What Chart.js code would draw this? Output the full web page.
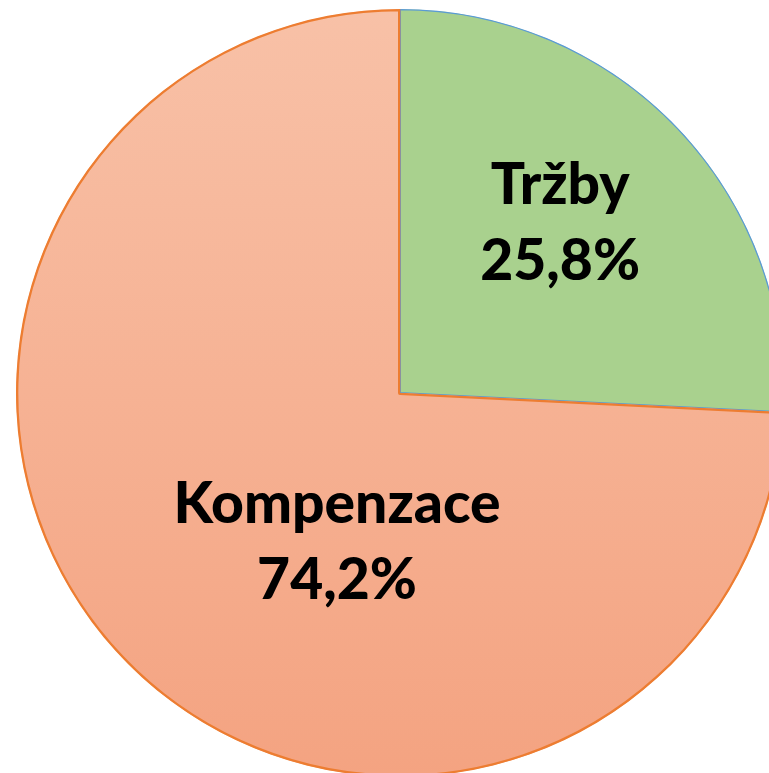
<!DOCTYPE html>
<html lang="cs">
<head>
<meta charset="UTF-8">
<title>Tržby a kompenzace</title>
<script src="https://cdn.jsdelivr.net/npm/chart.js"></script>
<style>
  html, body {
    margin: 0;
    padding: 0;
    background: #fff;
    width: 769px;
    height: 773px;
    overflow: hidden;
  }
  #wrap {
    position: absolute;
    left: 16px;
    top: 9px;
    width: 768px;
    height: 768px;
  }
</style>
</head>
<body>
<div id="wrap"><canvas id="pie"></canvas></div>

<script>
const categories = ['Tržby', 'Kompenzace'];
const shares = [25.8, 74.2];
const shareLabels = ['25,8%', '74,2%'];

// label anchor, as a fraction of the radius from the centre
const labelSpots = [[0.417, -0.44], [-0.164, 0.39]];

function sliceFill(context) {
  if (context.dataIndex === 0) return '#a9d18e';
  const area = context.chart.chartArea;
  if (!area) return '#f6b093';
  const g = context.chart.ctx.createLinearGradient(0, area.top, 0, area.bottom);
  g.addColorStop(0, '#f8c1a7');
  g.addColorStop(1, '#f4a381');
  return g;
}

const sliceLabels = {
  id: 'sliceLabels',
  afterDatasetsDraw(chart) {
    const c = chart.ctx;
    const arcs = chart.getDatasetMeta(0).data;
    c.save();
    c.fillStyle = '#000';
    c.textAlign = 'center';
    c.textBaseline = 'middle';
    c.font = '900 57px Lato';
    arcs.forEach((arc, i) => {
      const x = arc.x + labelSpots[i][0] * arc.outerRadius;
      const y = arc.y + labelSpots[i][1] * arc.outerRadius;
      c.fillText(categories[i], x, y - 38);
      c.fillText(shareLabels[i], x, y + 38);
    });
    c.restore();
  }
};

new Chart(document.getElementById('pie'), {
  type: 'pie',
  data: {
    labels: categories,
    datasets: [{
      data: shares,
      backgroundColor: sliceFill,
      borderColor: ['#5b9bd5', '#ed7d31'],
      borderWidth: [1, 2],
      borderAlign: 'inner'
    }]
  },
  options: {
    responsive: true,
    maintainAspectRatio: false,
    animation: false,
    layout: { padding: 0 },
    plugins: {
      legend: { display: false },
      tooltip: { enabled: false }
    }
  },
  plugins: [sliceLabels]
});
</script>
</body>
</html>
